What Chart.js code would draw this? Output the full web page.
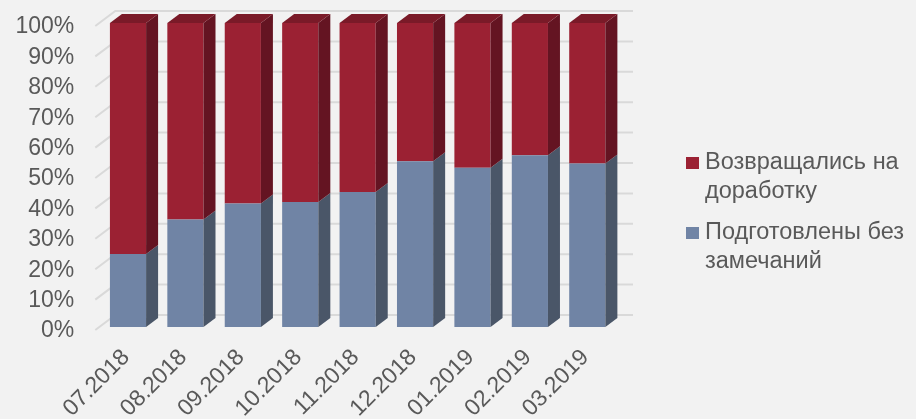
<!DOCTYPE html>
<html>
<head>
<meta charset="utf-8">
<script src="https://cdn.jsdelivr.net/npm/chart.js@4/dist/chart.umd.min.js"></script>
<style>
  html, body { margin: 0; padding: 0; background: #F2F2F2; }
  #wrap { position: relative; width: 916px; height: 419px; overflow: hidden; }
  #legend { position: absolute; left: 686px; top: 147px; font-family: "Liberation Sans", Arial, sans-serif; font-size: 23.5px; color: #595959; line-height: 29px; }
  .item { position: relative; padding-left: 19px; margin-bottom: 12px; white-space: nowrap; }
  .sw { position: absolute; left: 0; top: 10px; width: 13px; height: 12px; }
</style>
</head>
<body>
<div id="wrap">
  <canvas id="c" width="916" height="419"></canvas>
  <div id="legend"></div>
</div>
<script>
const categories = ['07.2018','08.2018','09.2018','10.2018','11.2018','12.2018','01.2019','02.2019','03.2019'];
const seriesNames = ['Подготовлены без замечаний', 'Возвращались на доработку'];
const legendLines = [['Возвращались на', 'доработку'], ['Подготовлены без', 'замечаний']];
const noRemarks = [24.0, 35.4, 40.6, 41.1, 44.4, 54.5, 52.4, 56.5, 53.8];
const returned = [76.0, 64.6, 59.4, 58.9, 55.6, 45.5, 47.6, 43.5, 46.2];
const yTicks = [0, 10, 20, 30, 40, 50, 60, 70, 80, 90, 100];

const frontColors = ['#7084A5', '#9B2133'];
const sideColors = ['#4A5668', '#641422'];
const topColor = '#7A1A28';
const DX = 12, DY = 9;

const legendEl = document.getElementById('legend');
[[1, legendLines[0]], [0, legendLines[1]]].forEach(([i, lines]) => {
  const d = document.createElement('div');
  d.className = 'item';
  d.innerHTML = '<span class="sw" style="background:' + frontColors[i] + '"></span>' + lines.join('<br>');
  legendEl.appendChild(d);
});

const grid3d = {
  id: 'grid3d',
  beforeDatasetsDraw(chart) {
    const ctx = chart.ctx, y = chart.scales.y, a = chart.chartArea;
    ctx.save();
    ctx.strokeStyle = '#D9D9D9';
    ctx.lineWidth = 2;
    yTicks.forEach(v => {
      const py = y.getPixelForValue(v);
      ctx.beginPath();
      ctx.moveTo(a.left - 4, py + 3);
      ctx.lineTo(a.left + 16, py - 12);
      ctx.lineTo(a.right + 17, py - 12);
      ctx.stroke();
    });
    ctx.restore();
  },
  afterDatasetsDraw(chart) {
    const ctx = chart.ctx;
    ctx.save();
    const n = chart.data.datasets.length;
    for (let d = 0; d < n; d++) {
      const meta = chart.getDatasetMeta(d);
      meta.data.forEach(bar => {
        const p = bar.getProps(['x', 'y', 'base', 'width'], true);
        const right = p.x + p.width / 2, left = p.x - p.width / 2;
        const top = Math.min(p.y, p.base), bot = Math.max(p.y, p.base);
        ctx.fillStyle = sideColors[d];
        ctx.beginPath();
        ctx.moveTo(right, bot);
        ctx.lineTo(right, top);
        ctx.lineTo(right + DX, top - DY);
        ctx.lineTo(right + DX, bot - DY);
        ctx.closePath();
        ctx.fill();
        if (d === n - 1) {
          ctx.fillStyle = topColor;
          ctx.beginPath();
          ctx.moveTo(left, top);
          ctx.lineTo(left + DX, top - DY);
          ctx.lineTo(right + DX, top - DY);
          ctx.lineTo(right, top);
          ctx.closePath();
          ctx.fill();
        }
      });
    }
    ctx.restore();
  }
};

const chart = new Chart(document.getElementById('c'), {
  type: 'bar',
  data: {
    labels: categories,
    datasets: [
      { label: seriesNames[0], data: noRemarks, backgroundColor: frontColors[0], borderWidth: 0 },
      { label: seriesNames[1], data: returned, backgroundColor: frontColors[1], borderWidth: 0 }
    ]
  },
  options: {
    responsive: false,
    animation: false,
    devicePixelRatio: 1,
    layout: { padding: { top: 23, right: 300, left: 0, bottom: 0 } },
    datasets: { bar: { categoryPercentage: 1, barPercentage: 0.63 } },
    plugins: { legend: { display: false }, tooltip: { enabled: false } },
    scales: {
      x: {
        stacked: true,
        grid: { display: false, drawTicks: false },
        border: { display: false },
        ticks: {
          minRotation: 45, maxRotation: 45, padding: 17, autoSkip: false, labelOffset: -2,
          color: '#595959',
          font: { family: '"Liberation Sans", Arial, sans-serif', size: 23 }
        },
        afterFit(s) { s.height = 92; s.paddingLeft = 0; s.paddingRight = 0; }
      },
      y: {
        stacked: true,
        min: 0, max: 100,
        grid: { display: false, drawTicks: false },
        border: { display: false },
        afterBuildTicks(s) { s.ticks = yTicks.map(v => ({ value: v })); },
        ticks: {
          padding: 25, autoSkip: false, labelOffset: 4,
          color: '#595959',
          font: { family: '"Liberation Sans", Arial, sans-serif', size: 23 },
          callback: v => v + '%'
        },
        afterFit(s) { s.width = 99.3; s.paddingTop = 0; s.paddingBottom = 0; }
      }
    }
  },
  plugins: [grid3d]
});
</script>
</body>
</html>
